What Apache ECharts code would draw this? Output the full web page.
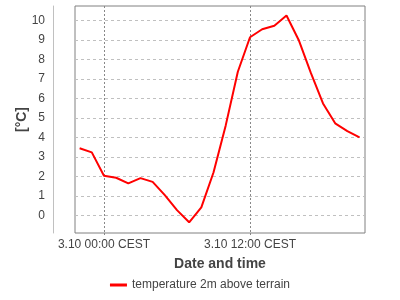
<!DOCTYPE html>
<html>
<head>
<meta charset="utf-8">
<script src="https://cdn.jsdelivr.net/npm/echarts@6/dist/echarts.min.js"></script>
<style>html,body{margin:0;padding:0;background:#fff}#c{width:400px;height:300px}</style>
</head>
<body>
<div id="c"></div>
<script>
// hours relative to 3.10 00:00 CEST
var hours = [-2,-1,0,1,2,3,4,5,6,7,8,9,10,11,12,13,14,15,16,17,18,19,20,21];
var temperature = [3.44,3.23,2.03,1.93,1.64,1.91,1.72,1.04,0.27,-0.35,0.41,2.2,4.6,7.36,9.13,9.54,9.72,10.24,8.99,7.3,5.74,4.72,4.32,4.0];
var xTickValues = [0, 12];
var xTickLabels = ['3.10 00:00 CEST', '3.10 12:00 CEST'];
var yTickValues = [0,1,2,3,4,5,6,7,8,9,10];
var seriesName = 'temperature 2m above terrain';

var chart = echarts.init(document.getElementById('c'), null, {renderer: 'canvas'});
var font = 'Liberation Sans, Arial, sans-serif';
chart.setOption({
  animation: false,
  textStyle: {fontFamily: font},
  grid: {left: 75, right: 35, top: 6, bottom: 67, show: true, borderColor: '#808080', borderWidth: 1, containLabel: false},
  xAxis: {
    type: 'value', min: -2.38, max: 21.45,
    name: 'Date and time', nameLocation: 'middle', nameGap: 24, nameMoveOverlap: false,
    nameTextStyle: {fontFamily: font, fontSize: 14, fontWeight: 'bold', color: '#444'},
    axisLine: {show: false, onZero: false},
    axisTick: {show: true, customValues: xTickValues, length: 4, lineStyle: {color: '#888', type: [2, 2]}},
    axisLabel: {customValues: xTickValues, margin: 6, fontFamily: font, fontSize: 12, color: '#444',
      formatter: function (v) { var i = xTickValues.indexOf(v); return i >= 0 ? xTickLabels[i] : ''; }},
    splitLine: {show: true, lineStyle: {color: '#888', type: [2, 2], width: 1}}
  },
  yAxis: {
    type: 'value', min: -0.9, max: 10.73, offset: 22,
    name: '[°C]', nameLocation: 'middle', nameGap: 24, nameRotate: 90, nameMoveOverlap: false,
    nameTextStyle: {fontFamily: font, fontSize: 14, fontWeight: 'bold', color: '#444'},
    axisLine: {show: true, onZero: false, lineStyle: {color: '#c0c0c0'}},
    axisTick: {show: false, customValues: yTickValues},
    axisLabel: {customValues: yTickValues, margin: 8, fontFamily: font, fontSize: 12, color: '#444'},
    splitLine: {show: true, lineStyle: {color: '#c0c0c0', type: [3, 3], width: 1}}
  },
  legend: {
    bottom: 4, left: 'center', icon: 'rect', itemWidth: 17, itemHeight: 3, itemGap: 4,
    textStyle: {fontFamily: font, fontSize: 12, color: '#444'},
    data: [seriesName]
  },
  series: [{
    name: seriesName, type: 'line', showSymbol: false, symbol: 'none',
    lineStyle: {color: '#ff0000', width: 2}, itemStyle: {color: '#ff0000'},
    data: hours.map(function (h, i) { return [h, temperature[i]]; })
  }]
});
</script>
</body>
</html>
